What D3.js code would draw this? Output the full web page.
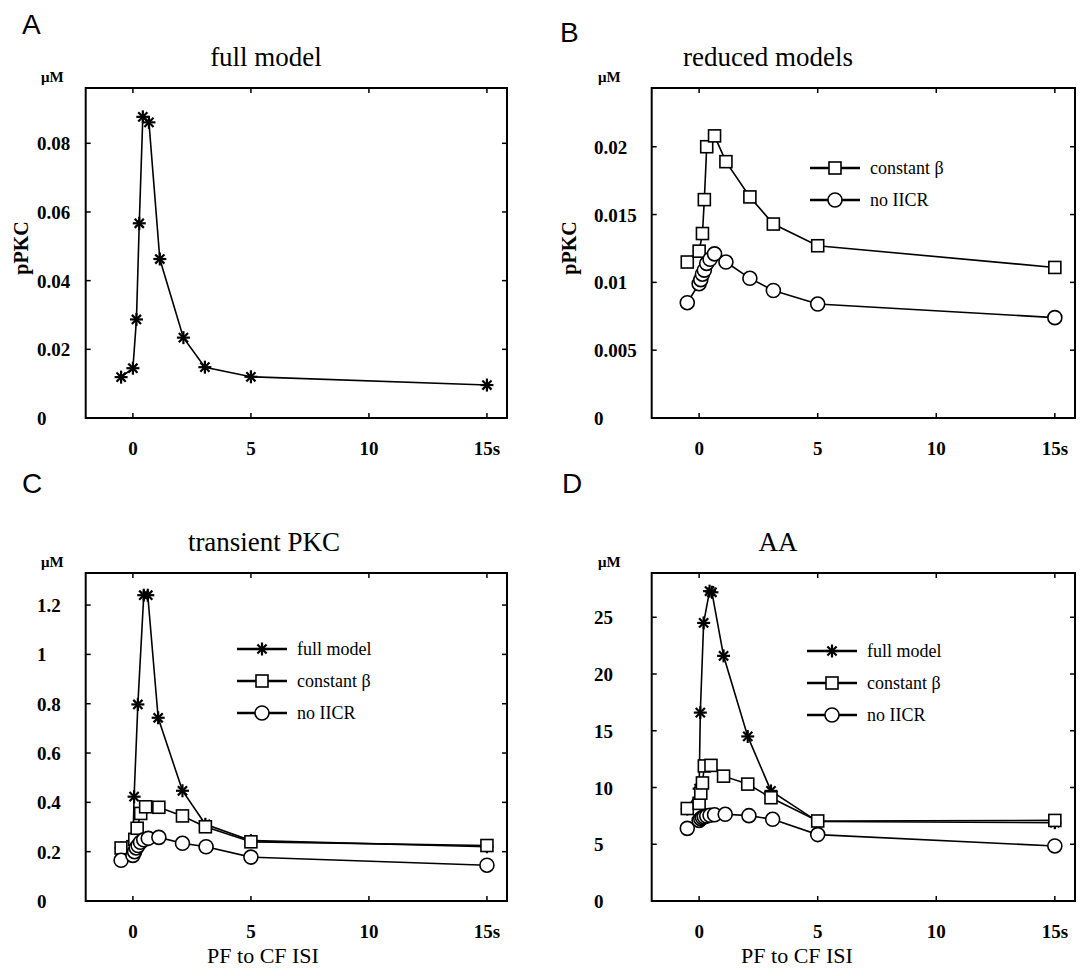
<!DOCTYPE html>
<html><head><meta charset="utf-8">
<script src="https://cdn.jsdelivr.net/npm/d3@7"></script>
<style>body{margin:0;background:#fff}</style>
</head><body><svg id="c" width="1087" height="976"></svg>
<script>
// ---- data ----
const xTicks = [0, 5, 10, 15];
const xTickLabels = ["0", "5", "10", "15s"];

const aFullX = [-0.5, 0, 0.15, 0.27, 0.42, 0.68, 1.14, 2.14, 3.05, 5, 15];
const aFullY = [0.0119, 0.0145, 0.0287, 0.0567, 0.0877, 0.0861, 0.0463, 0.0234, 0.0148, 0.0120, 0.0096];

const bConstX = [-0.5, 0, 0.14, 0.22, 0.32, 0.65, 1.13, 2.14, 3.13, 5, 15];
const bConstY = [0.0115, 0.0123, 0.0136, 0.0161, 0.0200, 0.0208, 0.0189, 0.0163, 0.0143, 0.0127, 0.0111];
const bNoX = [-0.5, 0, 0.07, 0.14, 0.22, 0.32, 0.46, 0.65, 1.13, 2.14, 3.13, 5, 15];
const bNoY = [0.0085, 0.0099, 0.0102, 0.0106, 0.0109, 0.0114, 0.0117, 0.0121, 0.0115, 0.0103, 0.0094, 0.0084, 0.0074];

const cFullX = [-0.5, 0, 0.05, 0.21, 0.46, 0.63, 1.07, 2.1, 3.07, 5, 15];
const cFullY = [0.215, 0.225, 0.423, 0.797, 1.24, 1.24, 0.743, 0.447, 0.311, 0.245, 0.22];
const cConstX = [-0.5, 0, 0.08, 0.18, 0.33, 0.54, 1.1, 2.1, 3.07, 5, 15];
const cConstY = [0.215, 0.22, 0.25, 0.295, 0.355, 0.382, 0.38, 0.345, 0.301, 0.24, 0.225];
const cNoX = [-0.5, 0, 0.07, 0.14, 0.22, 0.32, 0.46, 0.65, 1.1, 2.1, 3.1, 5, 15];
const cNoY = [0.165, 0.185, 0.2, 0.215, 0.225, 0.238, 0.248, 0.254, 0.258, 0.234, 0.22, 0.178, 0.145];

const dFullX = [-0.5, 0, 0.05, 0.19, 0.44, 0.54, 1.03, 2.05, 3.03, 5, 15];
const dFullY = [8.1, 9.9, 16.6, 24.5, 27.3, 27.2, 21.6, 14.5, 9.7, 7.0, 6.9];
const dConstX = [-0.5, 0, 0.07, 0.14, 0.22, 0.5, 1.03, 2.05, 3.03, 5, 15];
const dConstY = [8.15, 8.6, 9.5, 10.4, 11.9, 11.95, 11.0, 10.3, 9.1, 7.05, 7.1];
const dNoX = [-0.5, 0, 0.07, 0.14, 0.22, 0.32, 0.46, 0.65, 1.1, 2.1, 3.1, 5, 15];
const dNoY = [6.4, 7.1, 7.25, 7.35, 7.42, 7.48, 7.55, 7.6, 7.64, 7.52, 7.2, 5.85, 4.85];

const aYTicks = [0, 0.02, 0.04, 0.06, 0.08];
const aYLabels = ["0", "0.02", "0.04", "0.06", "0.08"];
const bYTicks = [0, 0.005, 0.01, 0.015, 0.02];
const bYLabels = ["0", "0.005", "0.01", "0.015", "0.02"];
const cYTicks = [0, 0.2, 0.4, 0.6, 0.8, 1, 1.2];
const cYLabels = ["0", "0.2", "0.4", "0.6", "0.8", "1", "1.2"];
const dYTicks = [0, 5, 10, 15, 20, 25];
const dYLabels = ["0", "5", "10", "15", "20", "25"];

const legendNames = ["full model", "constant \u03b2", "no IICR"];

// ---- drawing ----
const svg = d3.select("#c");
svg.append("rect").attr("width", 1087).attr("height", 976).attr("fill", "#fff");
const SERIF = "'Liberation Serif','Times New Roman',serif";
const SANS = "'Liberation Sans','DejaVu Sans',sans-serif";

function marker(g, type, x, y) {
  if (type === "star") {
    const r = 6.5;
    for (let k = 0; k < 4; k++) {
      const a = k * Math.PI / 4;
      g.append("line").attr("x1", x - r * Math.cos(a)).attr("y1", y - r * Math.sin(a))
        .attr("x2", x + r * Math.cos(a)).attr("y2", y + r * Math.sin(a))
        .attr("stroke", "#000").attr("stroke-width", 2.2);
    }
  } else if (type === "square") {
    g.append("rect").attr("x", x - 6).attr("y", y - 6).attr("width", 12).attr("height", 12)
      .attr("fill", "#fff").attr("stroke", "#000").attr("stroke-width", 1.6);
  } else {
    g.append("circle").attr("cx", x).attr("cy", y).attr("r", 7)
      .attr("fill", "#fff").attr("stroke", "#000").attr("stroke-width", 1.6);
  }
}

function panel(opt) {
  const g = svg.append("g");
  const x = d3.scaleLinear().domain([-2, 15.85]).range([opt.left, opt.right]);
  const y = d3.scaleLinear().domain([0, opt.ymax]).range([opt.bottom, opt.top]);
  // frame
  g.append("rect").attr("x", opt.left).attr("y", opt.top)
    .attr("width", opt.right - opt.left).attr("height", opt.bottom - opt.top)
    .attr("fill", "none").attr("stroke", "#000").attr("stroke-width", 2);
  // x ticks inward top/bottom
  const tl = 5;
  xTicks.forEach((t, i) => {
    const px = x(t);
    g.append("line").attr("x1", px).attr("x2", px).attr("y1", opt.bottom).attr("y2", opt.bottom - tl).attr("stroke", "#000").attr("stroke-width", 1.5);
    g.append("line").attr("x1", px).attr("x2", px).attr("y1", opt.top).attr("y2", opt.top + tl).attr("stroke", "#000").attr("stroke-width", 1.5);
    g.append("text").attr("x", px).attr("y", opt.bottom + 37).attr("text-anchor", "middle")
      .attr("font-family", SERIF).attr("font-weight", "bold").attr("font-size", 19).text(xTickLabels[i]);
  });
  opt.yTicks.forEach((t, i) => {
    const py = y(t);
    g.append("line").attr("x1", opt.left).attr("x2", opt.left + tl).attr("y1", py).attr("y2", py).attr("stroke", "#000").attr("stroke-width", 1.5);
    g.append("line").attr("x1", opt.right).attr("x2", opt.right - tl).attr("y1", py).attr("y2", py).attr("stroke", "#000").attr("stroke-width", 1.5);
    g.append("text").attr("x", opt.labelX).attr("y", py + 7).attr("text-anchor", "start")
      .attr("font-family", SERIF).attr("font-weight", "bold").attr("font-size", 19).text(opt.yLabels[i]);
  });
  // series
  const line = d3.line().x(d => x(d[0])).y(d => y(d[1]));
  opt.series.forEach(s => {
    const pts = s.xs.map((v, i) => [v, s.ys[i]]);
    g.append("path").attr("d", line(pts)).attr("fill", "none").attr("stroke", "#000").attr("stroke-width", 1.6);
  });
  opt.series.forEach(s => {
    s.xs.forEach((v, i) => marker(g, s.type, x(v), y(s.ys[i])));
  });
  // legend
  if (opt.legend) {
    opt.legend.items.forEach((it, i) => {
      const ly = opt.legend.y + i * opt.legend.dy;
      const lx = opt.legend.x;
      g.append("line").attr("x1", lx).attr("x2", lx + 50).attr("y1", ly).attr("y2", ly).attr("stroke", "#000").attr("stroke-width", 2.6);
      marker(g, it.type, lx + 25, ly);
      g.append("text").attr("x", lx + 60).attr("y", ly + 6).attr("font-family", SERIF)
        .attr("font-size", 18).text(it.name);
    });
  }
  // title and labels
  g.append("text").attr("x", opt.titleX).attr("y", opt.top - 22).attr("text-anchor", "middle")
    .attr("font-family", SERIF).attr("font-size", 27).text(opt.title);
  g.append("text").attr("x", opt.labelX + 4).attr("y", opt.top - 6)
    .attr("font-family", SERIF).attr("font-weight", "bold").attr("font-size", 15).text("\u03bcM");
  g.append("text").attr("x", opt.letterX).attr("y", opt.letterY)
    .attr("font-family", SANS).attr("font-size", 28).text(opt.letter);
  if (opt.ylabel) {
    g.append("text").attr("transform", `translate(${opt.ylabelX},${(opt.top + opt.bottom) / 2 - 5}) rotate(-90)`)
      .attr("text-anchor", "middle").attr("font-family", SERIF).attr("font-weight", "bold")
      .attr("font-size", 20).text(opt.ylabel);
  }
  if (opt.xlabel) {
    g.append("text").attr("x", opt.xlabelX).attr("y", opt.bottom + 62).attr("text-anchor", "middle")
      .attr("font-family", SERIF).attr("font-size", 22).text(opt.xlabel);
  }
}

panel({left: 85.7, right: 507, top: 88, bottom: 418, ymax: 0.0961, yTicks: aYTicks, yLabels: aYLabels,
  labelX: 37, title: "full model", titleX: 266, letter: "A", letterX: 22, letterY: 34,
  ylabel: "pPKC", ylabelX: 28,
  series: [{xs: aFullX, ys: aFullY, type: "star"}]});

panel({left: 651.7, right: 1075, top: 88, bottom: 418, ymax: 0.02433, yTicks: bYTicks, yLabels: bYLabels,
  labelX: 594, title: "reduced models", titleX: 768, letter: "B", letterX: 560, letterY: 42,
  ylabel: "pPKC", ylabelX: 576,
  series: [{xs: bConstX, ys: bConstY, type: "square"}, {xs: bNoX, ys: bNoY, type: "circle"}],
  legend: {x: 810, y: 168, dy: 32, items: [{type: "square", name: legendNames[1]}, {type: "circle", name: legendNames[2]}]}});

panel({left: 85.7, right: 507, top: 573, bottom: 901, ymax: 1.33, yTicks: cYTicks, yLabels: cYLabels,
  labelX: 37, title: "transient PKC", titleX: 264, letter: "C", letterX: 22, letterY: 493,
  xlabel: "PF to CF ISI", xlabelX: 263,
  series: [{xs: cFullX, ys: cFullY, type: "star"}, {xs: cConstX, ys: cConstY, type: "square"}, {xs: cNoX, ys: cNoY, type: "circle"}],
  legend: {x: 237, y: 649, dy: 32, items: [{type: "star", name: legendNames[0]}, {type: "square", name: legendNames[1]}, {type: "circle", name: legendNames[2]}]}});

panel({left: 651.7, right: 1075, top: 573, bottom: 901, ymax: 28.9, yTicks: dYTicks, yLabels: dYLabels,
  labelX: 594, title: "AA", titleX: 778, letter: "D", letterX: 562, letterY: 493,
  xlabel: "PF to CF ISI", xlabelX: 797,
  series: [{xs: dFullX, ys: dFullY, type: "star"}, {xs: dConstX, ys: dConstY, type: "square"}, {xs: dNoX, ys: dNoY, type: "circle"}],
  legend: {x: 807, y: 651, dy: 32, items: [{type: "star", name: legendNames[0]}, {type: "square", name: legendNames[1]}, {type: "circle", name: legendNames[2]}]}});
</script></body></html>
